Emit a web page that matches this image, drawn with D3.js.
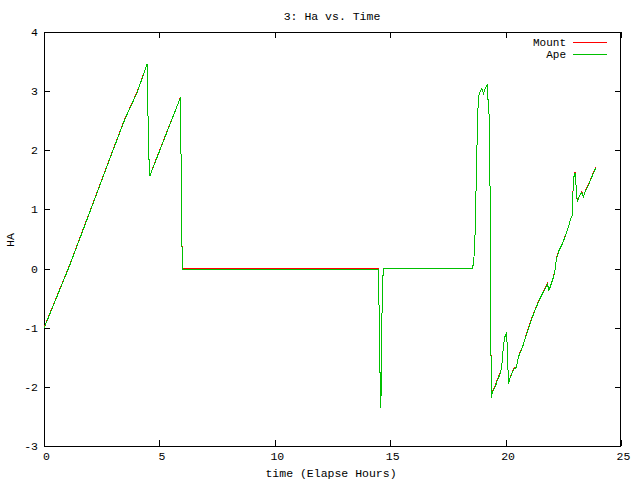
<!DOCTYPE html>
<html>
<head>
<meta charset="utf-8">
<script src="https://cdn.jsdelivr.net/npm/d3@7"></script>
<style>
  html, body { margin: 0; padding: 0; background: #fff; }
  svg { display: block; }
  text { font-family: "Liberation Mono", "DejaVu Sans Mono", monospace; font-size: 11.5px; fill: #000; }
  text.legend { font-size: 11px; }
</style>
</head>
<body>
<svg id="chart" width="640" height="480"></svg>
<script>
// ---- data ----
const title = "3: Ha vs. Time";
const xLabel = "time (Elapse Hours)";
const yLabel = "HA";
const xTicks = [0, 5, 10, 15, 20, 25];
const yTicks = [-3, -2, -1, 0, 1, 2, 3, 4];
const seriesNames = ["Mount", "Ape"];
const seriesColors = ["#ff0000", "#00c000"];

const tHours = [
  0.00, 1.08, 2.02, 2.99, 3.51, 4.04, 4.47,
  4.49, 4.53, 4.58, 4.84, 5.20, 5.92,
  5.93, 5.97, 5.99, 10.00, 14.48,
  14.49, 14.53, 14.54, 14.58, 14.59, 14.61, 14.62, 14.66, 14.70,
  18.56, 18.62, 18.68, 18.73, 18.78, 18.82, 18.88, 18.97, 19.04, 19.11, 19.21,
  19.22, 19.29, 19.33, 19.36, 19.38,
  19.43, 19.50, 19.57, 19.64, 19.71, 19.79, 19.86, 19.90, 19.96, 20.03,
  20.08, 20.12, 20.18, 20.29, 20.36, 20.47, 20.52, 20.58, 20.73, 20.87,
  21.01, 21.16, 21.30, 21.45, 21.59, 21.71, 21.81, 21.88, 21.95, 22.07,
  22.14, 22.20, 22.31, 22.46, 22.60, 22.72, 22.82, 22.89, 22.91, 22.95,
  23.01, 23.04, 23.07, 23.11, 23.18, 23.30, 23.37, 23.47, 23.61, 23.76, 23.90
];

const mountHA = [
  -1.00, 0.03, 1.00, 2.01, 2.54, 2.99, 3.46,
  2.97, 2.03, 1.56, 1.83, 2.19, 2.90,
  2.16, 0.73, 0.00, 0.00, 0.00,
  -0.60, -0.62, -1.75, -1.77, -2.35, -2.03, -1.30, -0.43, 0.00,
  0.00, 0.11, 0.61, 1.52, 2.42, 2.90, 2.98, 3.04, 2.96, 3.04, 3.12,
  2.96, 2.56, 1.23, -1.02, -2.17,
  -2.08, -2.02, -1.96, -1.88, -1.81, -1.74, -1.55, -1.33, -1.16, -1.10,
  -1.33, -1.95, -1.86, -1.75, -1.69, -1.66, -1.55, -1.46, -1.32, -1.15,
  -0.98, -0.81, -0.67, -0.53, -0.42, -0.33, -0.25, -0.36, -0.28, -0.14,
  -0.03, 0.17, 0.31, 0.42, 0.57, 0.70, 0.85, 0.90, 1.21, 1.55,
  1.63, 1.49, 1.27, 1.13, 1.21, 1.30, 1.21, 1.33, 1.44, 1.58, 1.71
];

const apeHA = [
  -1.01, 0.02, 0.99, 2.00, 2.53, 2.98, 3.46,
  2.97, 2.03, 1.56, 1.82, 2.18, 2.90,
  2.16, 0.73, -0.017, -0.017, -0.017,
  -0.60, -0.62, -1.75, -1.77, -2.35, -2.03, -1.30, -0.43, 0.00,
  0.00, 0.11, 0.61, 1.52, 2.42, 2.90, 2.98, 3.04, 2.96, 3.04, 3.12,
  2.96, 2.56, 1.23, -1.02, -2.18,
  -2.09, -2.03, -1.98, -1.89, -1.83, -1.75, -1.56, -1.33, -1.16, -1.10,
  -1.33, -1.95, -1.87, -1.75, -1.70, -1.67, -1.56, -1.47, -1.33, -1.16,
  -0.99, -0.82, -0.68, -0.54, -0.43, -0.34, -0.26, -0.37, -0.29, -0.15,
  -0.03, 0.16, 0.30, 0.42, 0.56, 0.70, 0.84, 0.90, 1.21, 1.54,
  1.61, 1.49, 1.26, 1.12, 1.21, 1.29, 1.21, 1.32, 1.43, 1.57, 1.70
];

// ---- drawing ----
(function () {
const svg = d3.select("#chart");
const L = 44, R = 621, T = 32, B = 446;
const xs = d3.scaleLinear().domain([0, 25]).range([L, R]);
const ys = d3.scaleLinear().domain([-3, 4]).range([B, T]);

// border
svg.append("rect")
  .attr("x", L + 0.5).attr("y", T + 0.5)
  .attr("width", R - L - 1).attr("height", B - T)
  .attr("fill", "none").attr("stroke", "#000").attr("stroke-width", 1)
  .attr("shape-rendering", "crispEdges");

const tickLen = 6;
const g = svg.append("g").attr("shape-rendering", "crispEdges").attr("stroke", "#000");
xTicks.forEach(v => {
  const px = Math.round(xs(v)) + 0.5;
  g.append("line").attr("x1", px).attr("x2", px).attr("y1", B).attr("y2", B - tickLen);
  g.append("line").attr("x1", px).attr("x2", px).attr("y1", T).attr("y2", T + tickLen);
});
yTicks.forEach(v => {
  const py = Math.round(ys(v)) + 0.5;
  g.append("line").attr("x1", L).attr("x2", L + tickLen).attr("y1", py).attr("y2", py);
  g.append("line").attr("x1", R).attr("x2", R - tickLen).attr("y1", py).attr("y2", py);
});

// tick labels
svg.append("g").selectAll("text").data(xTicks).join("text")
  .attr("x", d => xs(d) + 2.5).attr("y", 460)
  .attr("text-anchor", "middle").text(d => d);
svg.append("g").selectAll("text").data(yTicks).join("text")
  .attr("x", 38).attr("y", d => ys(d) + 4)
  .attr("text-anchor", "end").text(d => d);

// titles
svg.append("text").attr("x", 332).attr("y", 20).attr("text-anchor", "middle").text(title);
svg.append("text").attr("x", 331).attr("y", 477).attr("text-anchor", "middle").text(xLabel);
svg.append("text").attr("transform", "translate(14,240) rotate(-90)")
  .attr("text-anchor", "middle").text(yLabel);

// series
const line = d3.line().x(d => xs(d[0])).y(d => ys(d[1]));
const series = [mountHA, apeHA];
series.forEach((vals, i) => {
  const pts = tHours.map((t, k) => [t, vals[k]]);
  svg.append("path").datum(pts)
    .attr("d", line)
    .attr("fill", "none")
    .attr("stroke", seriesColors[i])
    .attr("stroke-width", 1)
    .attr("shape-rendering", "crispEdges");
});

// legend
seriesNames.forEach((name, i) => {
  const ly = 42 + i * 11.7;
  svg.append("text").attr("class", "legend").attr("x", 566).attr("y", ly + 4)
    .attr("text-anchor", "end").text(name);
  svg.append("line").attr("x1", 573).attr("x2", 607)
    .attr("y1", Math.round(ly) + 0.5).attr("y2", Math.round(ly) + 0.5)
    .attr("stroke", seriesColors[i]).attr("stroke-width", 1)
    .attr("shape-rendering", "crispEdges");
});
})();
</script>
</body>
</html>
